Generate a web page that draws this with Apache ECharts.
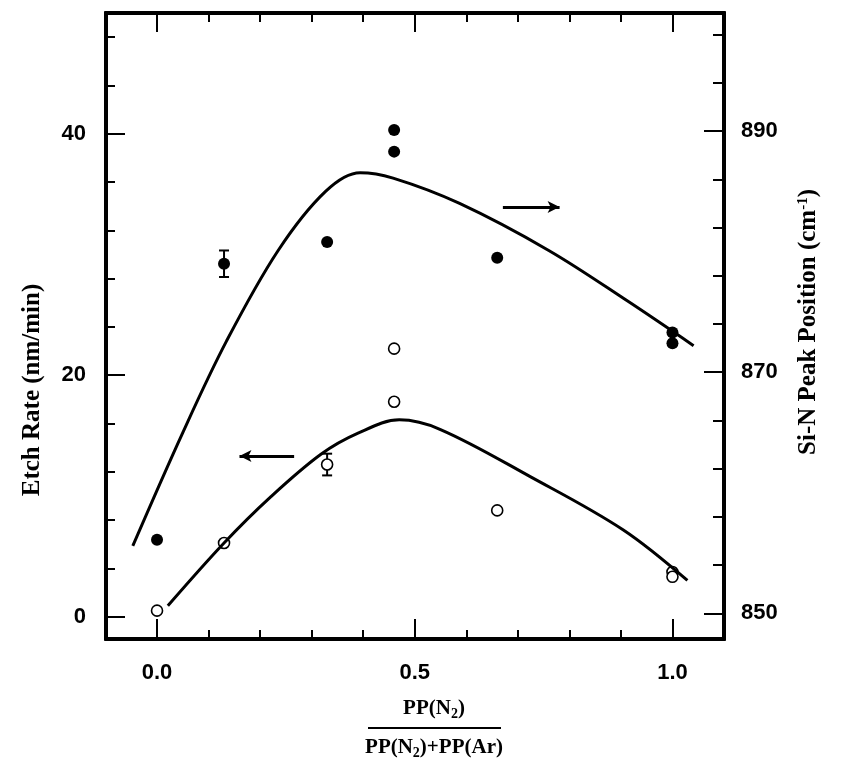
<!DOCTYPE html>
<html><head><meta charset="utf-8">
<script src="https://cdn.jsdelivr.net/npm/echarts@6/dist/echarts.min.js"></script>
<style>html,body{margin:0;padding:0;background:#fff}#c{width:842px;height:763px}</style>
</head><body><div id="c"></div>
<script>
// ---- data ----
const openX = [0.0, 0.13, 0.33, 0.46, 0.46, 0.66, 1.0, 1.0];
const openY = [0.5, 6.1, 12.6, 22.2, 17.8, 8.8, 3.7, 3.3];          // Etch Rate (nm/min), left axis
const openErr = [[0.33, 12.6, 0.9]];
const filledX = [0.0, 0.13, 0.33, 0.46, 0.46, 0.66, 1.0, 1.0];
const filledY = [856.1, 879.0, 880.8, 890.1, 888.3, 879.5, 873.3, 872.4]; // Si-N peak (cm-1), right axis
const filledErr = [[0.13, 879.0, 1.1]];
const lowerFitX = [0.021, 0.13, 0.22, 0.318, 0.39, 0.47, 0.55, 0.724, 0.904, 1.029];
const lowerFitY = [0.9, 6.1, 9.9, 13.45, 15.2, 16.3, 15.5, 11.6, 7.2, 3.0];
const upperFitX = [-0.047, 0.05, 0.135, 0.235, 0.327, 0.394, 0.458, 0.587, 0.76, 0.913, 1.041];
const upperFitY = [855.6, 865.0, 872.6, 880.1, 885.0, 886.55, 886.1, 884.0, 880.1, 875.9, 872.2];
const leftArrow = {from: [0.266, 13.3], to: [0.16, 13.3]};
const rightArrow = {from: [0.671, 883.7], to: [0.781, 883.7]};
const xMajorTicks = [0, 0.5, 1.0];
const xMinorTicks = [0.1, 0.2, 0.3, 0.4, 0.6, 0.7, 0.8, 0.9];
const leftMajorTicks = [0, 20, 40];
const leftMinorTicks = [4, 8, 12, 16, 24, 28, 32, 36, 44, 48];
const rightMajorTicks = [850, 870, 890];
const rightMinorTicks = [854, 858, 862, 866, 874, 878, 882, 886, 894, 898];
const leftTitle = 'Etch Rate (nm/min)';
const rightTitle = 'Si-N Peak Position (cm{sup|-1})';
const xNumerator = 'PP(N{sub|2})';
const xDenominator = 'PP(N{sub|2})+PP(Ar)';

const X_MIN = -0.099, X_MAX = 1.1;
const L_MIN = -1.85, L_MAX = 50.0;
const R_MIN = 847.87, R_MAX = 899.8;

const BLACK = '#000';
const tickFont = {color: BLACK, fontFamily: 'Liberation Sans', fontWeight: 'bold', fontSize: 22};
const serif = 'Liberation Serif';

function xAxisDef(pos, ticks, len, labels) {
  return {
    type: 'value', position: pos, min: X_MIN, max: X_MAX,
    axisLine: {show: true, onZero: false, lineStyle: {color: BLACK, width: 4}},
    axisTick: {show: true, inside: true, length: len, customValues: ticks, lineStyle: {color: BLACK, width: 2}},
    axisLabel: labels ? Object.assign({show: true, margin: 23, customValues: xMajorTicks,
      formatter: v => v.toFixed(1)}, tickFont) : {show: false},
    splitLine: {show: false}
  };
}
function yAxisDef(pos, mn, mx, ticks, len, labels, margin) {
  return {
    type: 'value', position: pos, min: mn, max: mx,
    axisLine: {show: true, onZero: false, lineStyle: {color: BLACK, width: 4}},
    axisTick: {show: true, inside: true, length: len, customValues: ticks, lineStyle: {color: BLACK, width: 2}},
    axisLabel: labels ? Object.assign({show: true, margin: margin, customValues: labels,
      formatter: v => String(Math.round(v))}, tickFont) : {show: false},
    splitLine: {show: false}
  };
}

const xAxes = [
  xAxisDef('bottom', xMajorTicks, 20, true),
  xAxisDef('bottom', xMinorTicks, 9, false),
  xAxisDef('top', xMajorTicks, 19, false),
  xAxisDef('top', xMinorTicks, 9, false)
];
const yAxes = [
  yAxisDef('left', L_MIN, L_MAX, leftMajorTicks, 19, leftMajorTicks, 20),
  yAxisDef('left', L_MIN, L_MAX, leftMinorTicks, 9, null),
  yAxisDef('right', R_MIN, R_MAX, rightMajorTicks, 20, rightMajorTicks, 17),
  yAxisDef('right', R_MIN, R_MAX, rightMinorTicks, 11, null)
];

function errRender(params, api) {
  const x = api.value(0), y = api.value(1), e = api.value(2);
  const top = api.coord([x, y + e]);
  const bot = api.coord([x, y - e]);
  const w = 5;
  const st = {stroke: BLACK, lineWidth: 2};
  return {type: 'group', children: [
    {type: 'line', shape: {x1: top[0], y1: top[1], x2: bot[0], y2: bot[1]}, style: st},
    {type: 'line', shape: {x1: top[0] - w, y1: top[1], x2: top[0] + w, y2: top[1]}, style: st},
    {type: 'line', shape: {x1: bot[0] - w, y1: bot[1], x2: bot[0] + w, y2: bot[1]}, style: st}
  ]};
}

const zip = (a, b) => a.map((v, i) => [v, b[i]]);
const subRich = {sub: {fontFamily: serif, fontWeight: 'bold', fontSize: 14, verticalAlign: 'bottom', padding: [11, 0, 0, 0], fill: BLACK}};
const supRich = {sup: {fontFamily: serif, fontWeight: 'bold', fontSize: 15, verticalAlign: 'top', padding: [0, 0, 11, 0], fill: BLACK}};

const option = {
  animation: false,
  backgroundColor: '#fff',
  grid: {left: 106, right: 118, top: 13, bottom: 124, containLabel: false, outerBoundsMode: 'none'},
  xAxis: xAxes,
  yAxis: yAxes,
  graphic: [
    {type: 'text', x: 434, y: 696, style: {
      text: xNumerator, fill: BLACK, font: 'bold 21px "Liberation Serif"', align: 'center', textAlign: 'center',
      verticalAlign: 'top', rich: subRich}},
    {type: 'rect', x: 368, y: 727, shape: {width: 133, height: 2}, style: {fill: BLACK}},
    {type: 'text', x: 434, y: 735, style: {
      text: xDenominator, fill: BLACK, font: 'bold 21px "Liberation Serif"', align: 'center', textAlign: 'center',
      verticalAlign: 'top', rich: subRich}},
    {type: 'text', x: 33, y: 390, rotation: Math.PI / 2, style: {
      text: leftTitle, fill: BLACK, font: 'bold 25px "Liberation Serif"', align: 'center', textAlign: 'center',
      verticalAlign: 'middle', textVerticalAlign: 'middle'}},
    {type: 'text', x: 809, y: 322, rotation: Math.PI / 2, style: {
      text: rightTitle, fill: BLACK, font: 'bold 25px "Liberation Serif"', align: 'center', textAlign: 'center',
      verticalAlign: 'middle', textVerticalAlign: 'middle', rich: supRich}}
  ],
  series: [
    {type: 'line', xAxisIndex: 0, yAxisIndex: 0, data: zip(lowerFitX, lowerFitY), smooth: 0.35,
      showSymbol: false, silent: true, lineStyle: {color: BLACK, width: 3},
      markLine: {silent: true, symbol: ['none', 'arrow'], symbolSize: [9, 12], label: {show: false},
        lineStyle: {color: BLACK, width: 3, type: 'solid'},
        data: [[{coord: leftArrow.from}, {coord: leftArrow.to}]]}},
    {type: 'line', xAxisIndex: 0, yAxisIndex: 2, data: zip(upperFitX, upperFitY), smooth: 0.35,
      showSymbol: false, silent: true, lineStyle: {color: BLACK, width: 3},
      markLine: {silent: true, symbol: ['none', 'arrow'], symbolSize: [9, 12], label: {show: false},
        lineStyle: {color: BLACK, width: 3, type: 'solid'},
        data: [[{coord: rightArrow.from}, {coord: rightArrow.to}]]}},
    {type: 'custom', xAxisIndex: 0, yAxisIndex: 0, data: openErr, renderItem: errRender, silent: true},
    {type: 'custom', xAxisIndex: 0, yAxisIndex: 2, data: filledErr, renderItem: errRender, silent: true},
    {type: 'scatter', xAxisIndex: 0, yAxisIndex: 0, data: zip(openX, openY), symbol: 'circle', symbolSize: 11,
      itemStyle: {color: '#fff', borderColor: BLACK, borderWidth: 1.6, opacity: 1}, silent: true},
    {type: 'scatter', xAxisIndex: 0, yAxisIndex: 2, data: zip(filledX, filledY), symbol: 'circle', symbolSize: 12,
      itemStyle: {color: BLACK, opacity: 1}, silent: true}
  ]
};
const chart = echarts.init(document.getElementById('c'), null, {renderer: 'canvas'});
chart.setOption(option);
</script></body></html>
